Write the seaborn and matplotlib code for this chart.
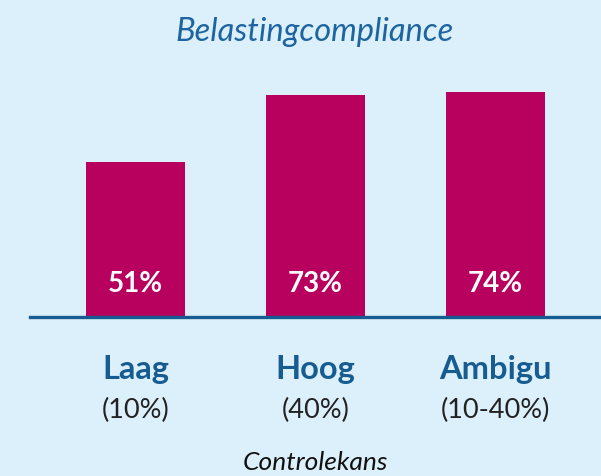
import matplotlib
matplotlib.use("Agg")
import matplotlib.pyplot as plt
import seaborn as sns
import pandas as pd

categories = ["Laag", "Hoog", "Ambigu"]
sublabels = ["(10%)", "(40%)", "(10-40%)"]
values = [51, 73, 74]
value_labels = ["51%", "73%", "74%"]
title = "Belastingcompliance"
xlabel = "Controlekans"

BG = "#dcf0fb"
BAR = "#b8005e"
BLUE = "#165c91"

sns.set_theme(style="white")
plt.rcParams["font.family"] = ["Lato", "DejaVu Sans"]

fig = plt.figure(figsize=(6.01, 4.77), dpi=100, facecolor=BG)
ax = fig.add_axes([30 / 601, 159 / 477, 571 / 601, 258 / 477])
ax.set_facecolor(BG)

df = pd.DataFrame({"cat": categories, "val": values})
sns.barplot(data=df, x="cat", y="val", color=BAR, saturation=1, width=0.55,
            linewidth=0, edgecolor="none", ax=ax)

ax.set_xlim(-0.586, 2.586)
ax.set_ylim(0, 84.9)
for s in ["top", "left", "right"]:
    ax.spines[s].set_visible(False)
ax.spines["bottom"].set_color(BLUE)
ax.spines["bottom"].set_linewidth(2.4)
ax.set_xticks([])
ax.set_yticks([])
ax.set_xlabel("")
ax.set_ylabel("")

for i, lab in enumerate(value_labels):
    ax.text(i, 11.2, lab, ha="center", va="center", color="white",
            fontsize=20, fontweight="bold")

tr = ax.get_xaxis_transform()
for i, (c, s) in enumerate(zip(categories, sublabels)):
    ax.text(i, -0.20, c, transform=tr, ha="center", va="center",
            color=BLUE, fontsize=23.5, fontweight="bold")
    ax.text(i, -0.36, s, transform=tr, ha="center", va="center",
            color="#222222", fontsize=19.5)

fig.text(315 / 601, (477 - 463) / 477, xlabel, ha="center", va="center",
         color="#111111", fontsize=19, style="italic")
fig.text(315 / 601, (477 - 32) / 477, title, ha="center", va="center",
         color="#1d64a0", fontsize=23.5, style="italic")

fig.savefig("out.png", dpi=100, facecolor=BG)
